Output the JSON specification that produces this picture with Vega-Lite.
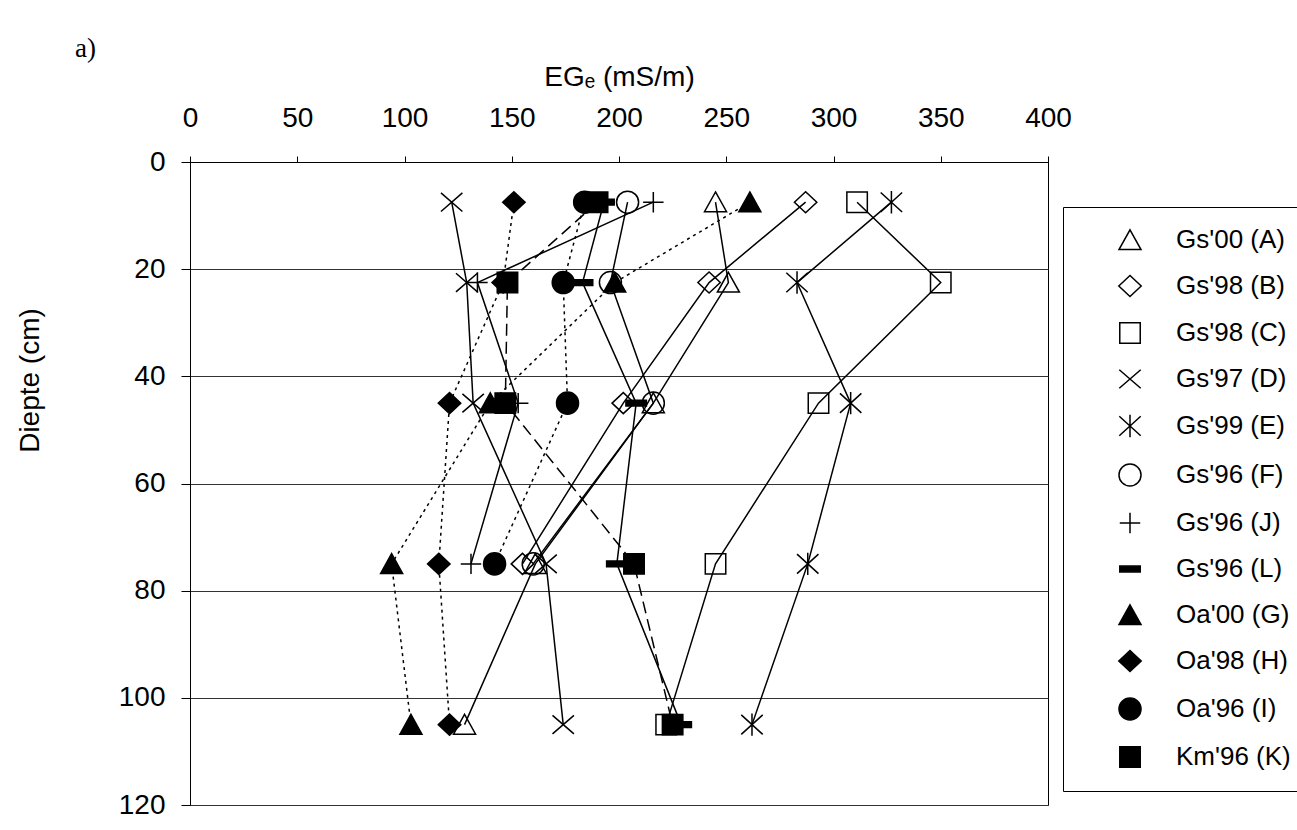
{
  "$schema": "https://vega.github.io/schema/vega-lite/v6.json",
  "width": 858,
  "height": 643,
  "autosize": {"type": "none"},
  "padding": {"left": 190, "top": 162, "right": 249, "bottom": 25},
  "background": "white",
  "title": {"text": "a)", "anchor": "start", "frame": "group", "dx": -115, "offset": 0, "fontSize": 27, "font": "Liberation Serif", "fontWeight": "normal", "color": "black"},
  "config": {
    "view": {"stroke": "black", "strokeWidth": 1},
    "font": "Liberation Sans"
  },
  "data": {"values": [
    {"series": "Gs'00 (A)", "depth": 7.5, "EG": 245},
    {"series": "Gs'00 (A)", "depth": 22.5, "EG": 251},
    {"series": "Gs'00 (A)", "depth": 45, "EG": 216},
    {"series": "Gs'00 (A)", "depth": 75, "EG": 161},
    {"series": "Gs'00 (A)", "depth": 105, "EG": 128},
    {"series": "Gs'98 (B)", "depth": 7.5, "EG": 287},
    {"series": "Gs'98 (B)", "depth": 22.5, "EG": 242},
    {"series": "Gs'98 (B)", "depth": 45, "EG": 202},
    {"series": "Gs'98 (B)", "depth": 75, "EG": 155},
    {"series": "Gs'98 (C)", "depth": 7.5, "EG": 311},
    {"series": "Gs'98 (C)", "depth": 22.5, "EG": 350},
    {"series": "Gs'98 (C)", "depth": 45, "EG": 293},
    {"series": "Gs'98 (C)", "depth": 75, "EG": 245},
    {"series": "Gs'98 (C)", "depth": 105, "EG": 222},
    {"series": "Gs'97 (D)", "depth": 7.5, "EG": 122},
    {"series": "Gs'97 (D)", "depth": 22.5, "EG": 129},
    {"series": "Gs'97 (D)", "depth": 45, "EG": 132},
    {"series": "Gs'97 (D)", "depth": 75, "EG": 166},
    {"series": "Gs'97 (D)", "depth": 105, "EG": 174},
    {"series": "Gs'99 (E)", "depth": 7.5, "EG": 327},
    {"series": "Gs'99 (E)", "depth": 22.5, "EG": 283},
    {"series": "Gs'99 (E)", "depth": 45, "EG": 308},
    {"series": "Gs'99 (E)", "depth": 75, "EG": 288},
    {"series": "Gs'99 (E)", "depth": 105, "EG": 262},
    {"series": "Gs'96 (F)", "depth": 7.5, "EG": 204},
    {"series": "Gs'96 (F)", "depth": 22.5, "EG": 196},
    {"series": "Gs'96 (F)", "depth": 45, "EG": 216},
    {"series": "Gs'96 (F)", "depth": 75, "EG": 160},
    {"series": "Gs'96 (J)", "depth": 7.5, "EG": 216},
    {"series": "Gs'96 (J)", "depth": 22.5, "EG": 134},
    {"series": "Gs'96 (J)", "depth": 45, "EG": 153},
    {"series": "Gs'96 (J)", "depth": 75, "EG": 131},
    {"series": "Gs'96 (L)", "depth": 7.5, "EG": 193},
    {"series": "Gs'96 (L)", "depth": 22.5, "EG": 183},
    {"series": "Gs'96 (L)", "depth": 45, "EG": 208},
    {"series": "Gs'96 (L)", "depth": 75, "EG": 199},
    {"series": "Gs'96 (L)", "depth": 105, "EG": 229},
    {"series": "Oa'00 (G)", "depth": 7.5, "EG": 261},
    {"series": "Oa'00 (G)", "depth": 22.5, "EG": 198},
    {"series": "Oa'00 (G)", "depth": 45, "EG": 140},
    {"series": "Oa'00 (G)", "depth": 75, "EG": 94},
    {"series": "Oa'00 (G)", "depth": 105, "EG": 103},
    {"series": "Oa'98 (H)", "depth": 7.5, "EG": 151},
    {"series": "Oa'98 (H)", "depth": 22.5, "EG": 146},
    {"series": "Oa'98 (H)", "depth": 45, "EG": 121},
    {"series": "Oa'98 (H)", "depth": 75, "EG": 116},
    {"series": "Oa'98 (H)", "depth": 105, "EG": 121},
    {"series": "Oa'96 (I)", "depth": 7.5, "EG": 184},
    {"series": "Oa'96 (I)", "depth": 22.5, "EG": 174},
    {"series": "Oa'96 (I)", "depth": 45, "EG": 176},
    {"series": "Oa'96 (I)", "depth": 75, "EG": 142},
    {"series": "Km'96 (K)", "depth": 7.5, "EG": 190},
    {"series": "Km'96 (K)", "depth": 22.5, "EG": 148},
    {"series": "Km'96 (K)", "depth": 45, "EG": 147},
    {"series": "Km'96 (K)", "depth": 75, "EG": 207},
    {"series": "Km'96 (K)", "depth": 105, "EG": 225}
  ]},
  "encoding": {
    "x": {"field": "EG", "type": "quantitative",
      "scale": {"domain": [0, 400], "nice": false},
      "axis": {"orient": "top", "title": "EGₑ (mS/m)", "values": [0, 50, 100, 150, 200, 250, 300, 350, 400], "grid": false,
        "tickSize": 6, "labelPadding": 24, "labelFlush": false, "labelFontSize": 28, "titleFontSize": 28, "titleFontWeight": "normal", "titlePadding": 13,
        "domainColor": "black", "tickColor": "black", "labelColor": "black", "titleColor": "black", "labelFont": "Liberation Sans", "titleFont": "Liberation Sans", "labelOverlap": false}},
    "y": {"field": "depth", "type": "quantitative",
      "scale": {"domain": [0, 120], "reverse": true, "nice": false},
      "axis": {"title": "Diepte (cm)", "values": [0, 20, 40, 60, 80, 100, 120], "grid": true, "gridColor": "#333333", "gridWidth": 1, "gridOpacity": 1,
        "tickSize": 9, "labelPadding": 16, "labelFontSize": 28, "titleFontSize": 28, "titleFontWeight": "normal",
        "titleX": -160, "titleY": 218, "titleAngle": -90, "titleAlign": "center", "titleBaseline": "middle",
        "domainColor": "black", "tickColor": "black", "labelColor": "black", "titleColor": "black", "labelFont": "Liberation Sans", "titleFont": "Liberation Sans", "labelOverlap": false}}
  },
  "layer": [
    {
      "transform": [{"filter": "indexof(datum.series, 'Gs') == 0"}],
      "mark": {"type": "line", "color": "black", "strokeWidth": 1.5},
      "encoding": {
        "detail": {"field": "series", "type": "nominal"},
        "order": {"field": "depth", "type": "quantitative"}
      }
    },
    {
      "transform": [{"filter": "indexof(datum.series, 'Oa') == 0"}],
      "mark": {"type": "line", "color": "black", "strokeWidth": 1.5, "strokeDash": [3, 4]},
      "encoding": {
        "detail": {"field": "series", "type": "nominal"},
        "order": {"field": "depth", "type": "quantitative"}
      }
    },
    {
      "transform": [{"filter": "indexof(datum.series, 'Km') == 0"}],
      "mark": {"type": "line", "color": "black", "strokeWidth": 1.5, "strokeDash": [12, 6]},
      "encoding": {
        "detail": {"field": "series", "type": "nominal"},
        "order": {"field": "depth", "type": "quantitative"}
      }
    },
    {
      "mark": {"type": "point", "stroke": "black", "strokeWidth": 1.5, "opacity": 1, "size": 380},
      "encoding": {
        "shape": {"field": "series", "type": "nominal",
          "scale": {"domain": ["Gs'00 (A)", "Gs'98 (B)", "Gs'98 (C)", "Gs'97 (D)", "Gs'99 (E)", "Gs'96 (F)", "Gs'96 (J)", "Gs'96 (L)", "Oa'00 (G)", "Oa'98 (H)", "Oa'96 (I)", "Km'96 (K)"],
            "range": [
              "M0,-1.05L1.13,0.98L-1.13,0.98Z",
              "M-1.15,0L0,-1.08L1.15,0L0,1.08Z",
              "M-1.05,-1.05H1.05V1.05H-1.05Z",
              "M-1.1,-0.95L1.1,0.95M-1.1,0.95L1.1,-0.95",
              "M-1.1,-1L1.1,1M-1.1,1L1.1,-1M0,-1.15V1.15",
              "M1.13,0C1.13,0.624 0.624,1.13 0,1.13C-0.624,1.13 -1.13,0.624 -1.13,0C-1.13,-0.624 -0.624,-1.13 0,-1.13C0.624,-1.13 1.13,-0.624 1.13,0Z",
              "M-1.05,0H1.05M0,-1.05V1.05",
              "M-1.05,-0.3H1.05V0.3H-1.05Z",
              "M0,-1.05L1.13,0.98L-1.13,0.98Z",
              "M-1.15,0L0,-1.08L1.15,0L0,1.08Z",
              "M1.13,0C1.13,0.624 0.624,1.13 0,1.13C-0.624,1.13 -1.13,0.624 -1.13,0C-1.13,-0.624 -0.624,-1.13 0,-1.13C0.624,-1.13 1.13,-0.624 1.13,0Z",
              "M-1.05,-1.05H1.05V1.05H-1.05Z"
            ]},
          "legend": {"title": null, "orient": "none", "legendX": 873, "legendY": 45, "strokeColor": "black", "fillColor": "white", "padding": 20,
            "symbolSize": 380, "symbolStrokeWidth": 1.5, "symbolStrokeColor": "black", "symbolOpacity": 1,
            "labelFontSize": 26, "labelFont": "Liberation Sans", "labelColor": "black", "rowPadding": 19, "symbolOffset": 34, "labelOffset": 33,
            "encode": {"symbols": {"update": {"stroke": {"value": "black"}, "strokeWidth": {"value": 1.5}}}}}
        },
        "fill": {"field": "series", "type": "nominal",
          "scale": {"domain": ["Gs'00 (A)", "Gs'98 (B)", "Gs'98 (C)", "Gs'97 (D)", "Gs'99 (E)", "Gs'96 (F)", "Gs'96 (J)", "Gs'96 (L)", "Oa'00 (G)", "Oa'98 (H)", "Oa'96 (I)", "Km'96 (K)"],
            "range": ["transparent", "transparent", "transparent", "transparent", "transparent", "transparent", "transparent", "black", "black", "black", "black", "black"]},
          "legend": {"title": null, "orient": "none", "legendX": 873, "legendY": 45, "strokeColor": "black", "fillColor": "white", "padding": 20,
            "symbolSize": 380, "symbolStrokeWidth": 1.5, "symbolStrokeColor": "black", "symbolOpacity": 1,
            "labelFontSize": 26, "labelFont": "Liberation Sans", "labelColor": "black", "rowPadding": 19, "symbolOffset": 34, "labelOffset": 33,
            "encode": {"symbols": {"update": {"stroke": {"value": "black"}, "strokeWidth": {"value": 1.5}}}}}
        }
      }
    }
  ]
}
